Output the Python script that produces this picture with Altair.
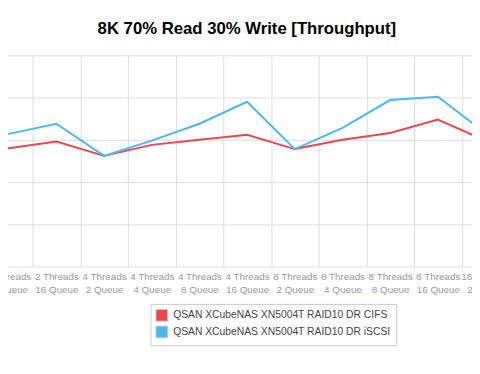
import altair as alt
import pandas as pd

# Visible categories (the original chart is wider than the view and cropped on both sides)
threads = ["2 Threads", "2 Threads", "2 Threads", "4 Threads", "4 Threads", "4 Threads",
           "4 Threads", "8 Threads", "8 Threads", "8 Threads", "8 Threads", "16 Threads"]
queues = ["4 Queue", "8 Queue", "16 Queue", "2 Queue", "4 Queue", "8 Queue",
          "16 Queue", "2 Queue", "4 Queue", "8 Queue", "16 Queue", "2 Queue"]
series_names = ["QSAN XCubeNAS XN5004T RAID10 DR CIFS",
                "QSAN XCubeNAS XN5004T RAID10 DR iSCSI"]
cifs = [132, 140, 148, 131, 144, 150, 156, 139, 150, 158, 174, 149]
iscsi = [145, 157, 169, 131, 149, 169, 195, 139, 164, 197, 201, 158]
y_ticks = [0, 50, 100, 150, 200, 250]
colors = ["#e8474f", "#4db8ec"]

categories = [f"{t}|{q}" for t, q in zip(threads, queues)]
rows = []
for name, vals in zip(series_names, [cifs, iscsi]):
    for i, (c, v) in enumerate(zip(categories, vals)):
        rows.append({"config": c, "idx": i, "series": name, "line_series": name, "value": v})
df = pd.DataFrame(rows)

FONT = "Liberation Sans"

x_enc = alt.X("config:N", sort=categories,
              scale=alt.Scale(paddingInner=0, paddingOuter=0),
              axis=alt.Axis(title=None, labelExpr="split(datum.label, '|')", labelAngle=0,
                            grid=True, tickBand="extent", ticks=False, domain=False,
                            gridColor="#dddddd", gridWidth=1, labelColor="#999999",
                            labelFontSize=10, labelFont=FONT, labelLineHeight=13,
                            labelPadding=5, labelOverlap=False, labelBaseline="top"))
y_enc = alt.Y("value:Q", scale=alt.Scale(domain=[0, 250]),
              axis=alt.Axis(title=None, values=y_ticks, ticks=False, domain=False,
                            gridColor="#dddddd", gridWidth=1, labelColor="#999999",
                            labelFont=FONT, labelFontSize=10))

base = alt.Chart(df)

lines = base.mark_line(strokeWidth=2).encode(
    x=x_enc, y=y_enc,
    stroke=alt.Stroke("line_series:N", sort=series_names,
                      scale=alt.Scale(range=colors), legend=None),
    order=alt.Order("idx:Q"),
)

legend_marks = base.mark_point(shape="square", filled=True, size=1, opacity=0).encode(
    x=x_enc, y=y_enc,
    fill=alt.Fill("series:N", scale=alt.Scale(domain=series_names, range=colors),
                  legend=alt.Legend(title=None, orient="none", legendX=217, legendY=253,
                                    direction="vertical", symbolType="square",
                                    symbolSize=144, symbolStrokeColor="#cccccc",
                                    symbolStrokeWidth=1, symbolOpacity=1,
                                    labelFont=FONT, labelFontSize=10.5, labelColor="#444444",
                                    labelOffset=5, strokeColor="#cccccc", padding=5,
                                    rowPadding=0, labelLimit=400)),
)

chart = alt.layer(lines, legend_marks).properties(
    width=582,
    height=215,
    autosize=alt.AutoSizeParams(type="none"),
    padding={"left": -72, "right": -38, "top": 45, "bottom": 95},
    title=alt.TitleParams("8K 70% Read 30% Write [Throughput]", fontSize=17,
                          fontWeight="bold", font=FONT, color="#000000",
                          anchor="middle", dx=24, offset=13),
).configure_view(stroke=None)

chart.save("out.html", embed_options={"renderer": "svg", "actions": False})
